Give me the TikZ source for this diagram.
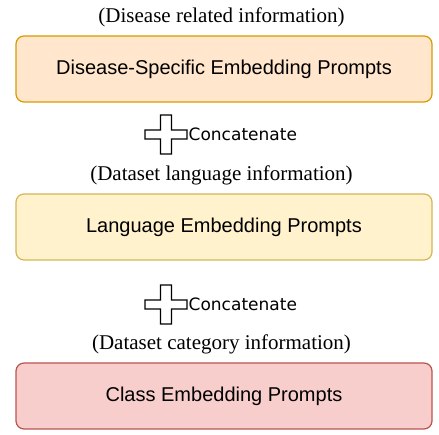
\documentclass[tikz,border=0pt]{standalone}
\usepackage{fontspec}
\setmainfont{Liberation Serif}
\newfontfamily\boxfont{Liberation Sans}
\newfontfamily\catfont{DejaVu Sans}
\definecolor{orangefill}{HTML}{FFE6CC}
\definecolor{orangeline}{HTML}{D79B00}
\definecolor{yellowfill}{HTML}{FFF2CC}
\definecolor{yellowline}{HTML}{D6B656}
\definecolor{redfill}{HTML}{F8CECC}
\definecolor{redline}{HTML}{B85450}
% plus outline: arm half-width, bar half-height, half-width, half-height
\newcommand{\pluspath}[4]{(-#1,#4) -- (#1,#4) -- (#1,#2) -- (#3,#2)
  -- (#3,-#2) -- (#1,-#2) -- (#1,-#4) -- (-#1,-#4) -- (-#1,-#2)
  -- (-#3,-#2) -- (-#3,#2) -- (-#1,#2) -- cycle}
\newcommand{\plusoutline}[1]{%
  \fill[crossfill, shift={(#1)}] \pluspath{6.2}{5.2}{21.7}{20.2}
    \pluspath{4.8}{3.8}{20.3}{18.8};}
\begin{document}
\begin{tikzpicture}[x=1pt, y=1pt,
    promptbox/.style={draw, line width=1.2pt, rounded corners=8pt,
      minimum width=416pt, minimum height=66pt, inner sep=0pt,
      font=\boxfont\fontsize{20}{24}\selectfont},
    hint/.style={inner sep=0pt, font=\fontsize{21}{25}\selectfont},
    concat/.style={inner sep=0pt, anchor=west,
      font=\catfont\fontsize{17}{20}\selectfont},
    crossfill/.style={fill=black, even odd rule}]
  \useasboundingbox (0,0) rectangle (439,435);
  \node (info1) at (221.5,418) [hint] {(Disease related information)};
  \node (disease) at (224,366) [promptbox, fill=orangefill, draw=orangeline]
    {Disease-Specific Embedding Prompts};
  \coordinate (c1) at (166,300.5); \plusoutline{c1}
  \node (cat1) at ([xshift=22.5pt]c1) [concat] {Concatenate};
  \node (info2) at (221.5,260) [hint] {(Dataset language information)};
  \node (lang) at (224,208) [promptbox, fill=yellowfill, draw=yellowline]
    {Language Embedding Prompts};
  \coordinate (c2) at (166,130.5); \plusoutline{c2}
  \node (cat2) at ([xshift=22.5pt]c2) [concat] {Concatenate};
  \node (info3) at (221.5,91) [hint] {(Dataset category information)};
  \node (class) at (224,39) [promptbox, fill=redfill, draw=redline]
    {Class Embedding Prompts};
\end{tikzpicture}
\end{document}
